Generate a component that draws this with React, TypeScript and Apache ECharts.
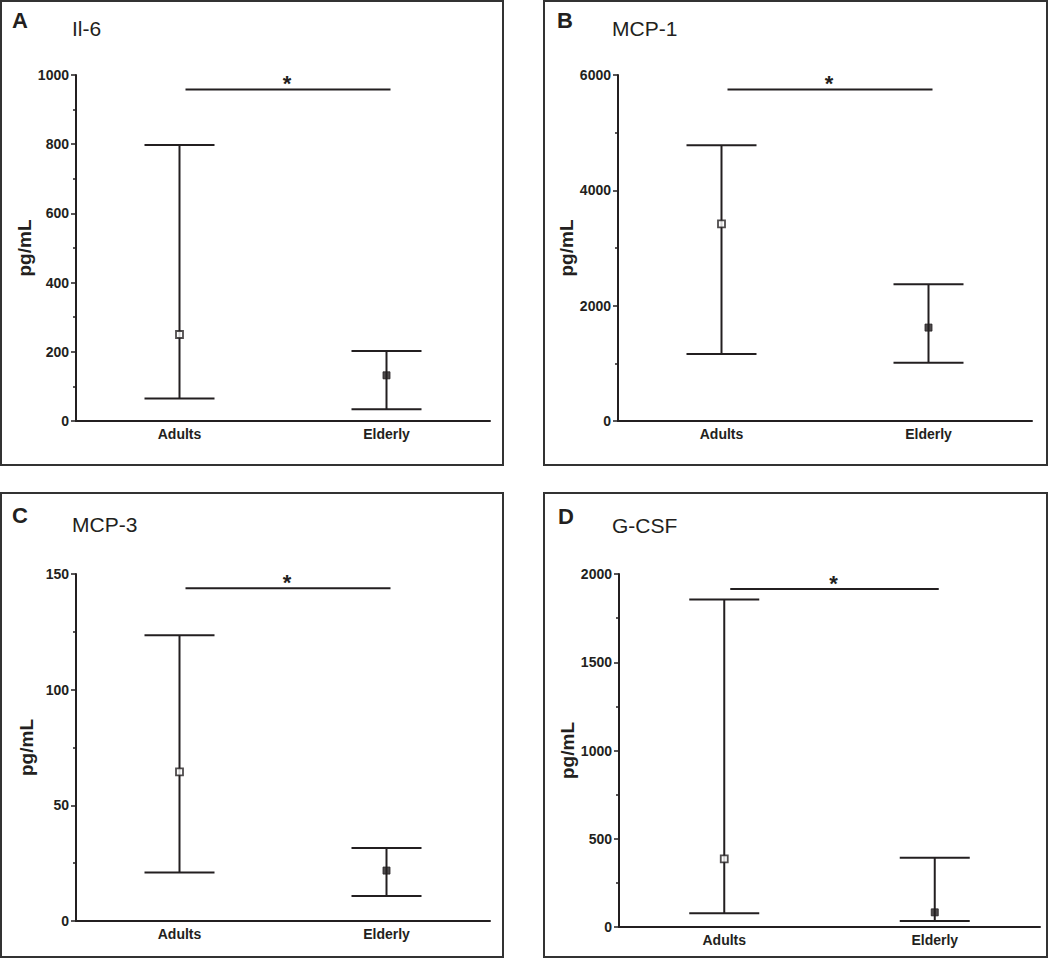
import React, { useEffect, useRef } from "react";
import * as echarts from "echarts";

const categories = ["Adults", "Elderly"];
const panelLetters = ["A", "B", "C", "D"];
const panelTitles = ["Il-6", "MCP-1", "MCP-3", "G-CSF"];
const yAxisName = "pg/mL";
const yMax = [1000, 6000, 150, 2000];
const yInterval = [200, 2000, 50, 500];
const adultsMean = [250, 3420, 64.5, 386];
const adultsLow = [65, 1160, 21, 78];
const adultsHigh = [798, 4780, 123.5, 1855];
const elderlyMean = [132, 1620, 21.8, 83];
const elderlyLow = [34, 1010, 10.8, 34];
const elderlyHigh = [202, 2370, 31.6, 393];
const sigLevel = [958, 5750, 143.8, 1915];
const sigLabel = ["*", "*", "*", "*"];

const FONT = '"Liberation Sans", Arial, Helvetica, sans-serif';
const INK = "#231f20";

// layout (pixels)
const grids = [
  { left: 76, top: 75, width: 414, height: 346 },
  { left: 618, top: 75, width: 414, height: 346 },
  { left: 76, top: 574, width: 414, height: 347 },
  { left: 619, top: 574, width: 421, height: 353 },
];
const frames = [
  { x: 1, y: 1, width: 502, height: 464 },
  { x: 544, y: 1, width: 503, height: 464 },
  { x: 1, y: 493, width: 502, height: 464 },
  { x: 544, y: 493, width: 503, height: 464 },
];
const letterPos = [
  { x: 12, y: 20 },
  { x: 557, y: 20 },
  { x: 12, y: 515.5 },
  { x: 558, y: 516 },
];
const titlePos = [
  { x: 72, y: 28.5 },
  { x: 612, y: 28.5 },
  { x: 72, y: 524.5 },
  { x: 612, y: 525 },
];

export default function App() {
  const ref = useRef<HTMLDivElement>(null);

  useEffect(() => {
    if (!ref.current) return;
    const chart = echarts.init(ref.current, undefined, { renderer: "svg" });

    const errorBarRender = (params: any, api: any) => {
      const x = api.value(0);
      const lo = api.coord([x, api.value(1)]);
      const hi = api.coord([x, api.value(2)]);
      const hw = 35;
      const style = { stroke: INK, lineWidth: 2 };
      return {
        type: "group",
        children: [
          { type: "line", shape: { x1: lo[0], y1: lo[1], x2: hi[0], y2: hi[1] }, style },
          { type: "line", shape: { x1: lo[0] - hw, y1: lo[1], x2: lo[0] + hw, y2: lo[1] }, style },
          { type: "line", shape: { x1: hi[0] - hw, y1: hi[1], x2: hi[0] + hw, y2: hi[1] }, style },
        ],
      };
    };

    const sigRender = (params: any, api: any) => {
      const p0 = api.coord([api.value(0), api.value(1)]);
      const p1 = api.coord([api.value(2), api.value(1)]);
      const x1 = p0[0] + 6;
      const x2 = p1[0] + 4;
      return {
        type: "group",
        children: [
          { type: "line", shape: { x1, y1: p0[1], x2, y2: p0[1] }, style: { stroke: INK, lineWidth: 2 } },
          {
            type: "text",
            x: (x1 + x2) / 2 - 1,
            y: p0[1] - 6,
            style: {
              text: sigLabel[Math.floor(params.seriesIndex / 4)] ?? "*",
              fontSize: 22,
              fontWeight: "bold",
              fontFamily: FONT,
              fill: INK,
              align: "center",
              verticalAlign: "middle",
            },
          },
        ],
      };
    };

    const xAxis: any[] = [];
    const yAxis: any[] = [];
    const series: any[] = [];
    const graphic: any[] = [];

    for (let i = 0; i < 4; i++) {
      xAxis.push({
        type: "category",
        gridIndex: i,
        data: categories,
        boundaryGap: true,
        axisLine: { lineStyle: { color: INK, width: 2 } },
        axisTick: { show: false },
        axisLabel: { color: INK, fontFamily: FONT, fontWeight: "bold", fontSize: 14, margin: 6 },
        splitLine: { show: false },
      });
      yAxis.push({
        type: "value",
        gridIndex: i,
        min: 0,
        max: yMax[i],
        interval: yInterval[i],
        name: yAxisName,
        nameLocation: "middle",
        nameGap: 40,
        nameTextStyle: { color: INK, fontFamily: FONT, fontWeight: "bold", fontSize: 19 },
        axisLine: { show: true, lineStyle: { color: INK, width: 2 } },
        axisTick: { show: true, length: 5, lineStyle: { color: INK, width: 1.5 } },
        minorTick: { show: true, splitNumber: 2, length: 3, lineStyle: { color: INK, width: 1.5 } },
        axisLabel: {
          color: INK,
          fontFamily: FONT,
          fontWeight: "bold",
          fontSize: 14,
          margin: 7,
          formatter: (v: number) => String(v),
        },
        splitLine: { show: false },
      });
      series.push({
        type: "custom",
        name: "error bars " + panelTitles[i],
        xAxisIndex: i,
        yAxisIndex: i,
        z: 2,
        renderItem: errorBarRender,
        data: [
          [categories[0], adultsLow[i], adultsHigh[i]],
          [categories[1], elderlyLow[i], elderlyHigh[i]],
        ],
      });
      series.push({
        type: "custom",
        name: "significance " + panelTitles[i],
        xAxisIndex: i,
        yAxisIndex: i,
        z: 2,
        renderItem: sigRender,
        data: [[0, sigLevel[i], 1]],
      });
      series.push({
        type: "scatter",
        name: categories[0] + " " + panelTitles[i],
        xAxisIndex: i,
        yAxisIndex: i,
        z: 4,
        symbol: "rect",
        symbolSize: 7,
        itemStyle: { color: "#ffffff", borderColor: INK, borderWidth: 1.8 },
        data: [[categories[0], adultsMean[i]]],
      });
      series.push({
        type: "scatter",
        name: categories[1] + " " + panelTitles[i],
        xAxisIndex: i,
        yAxisIndex: i,
        z: 4,
        symbol: "rect",
        symbolSize: 7,
        itemStyle: { color: INK, borderColor: INK, borderWidth: 1 },
        data: [[categories[1], elderlyMean[i]]],
      });

      graphic.push({
        type: "rect",
        shape: frames[i],
        style: { fill: "none", stroke: "#333333", lineWidth: 2 },
        silent: true,
      });
      graphic.push({
        type: "text",
        x: letterPos[i].x,
        y: letterPos[i].y,
        style: {
          text: panelLetters[i],
          fontSize: 22,
          fontWeight: "bold",
          fontFamily: FONT,
          fill: INK,
          verticalAlign: "middle",
        },
      });
      graphic.push({
        type: "text",
        x: titlePos[i].x,
        y: titlePos[i].y,
        style: {
          text: panelTitles[i],
          fontSize: 21,
          fontFamily: FONT,
          fill: INK,
          verticalAlign: "middle",
        },
      });
    }

    chart.setOption({
      animation: false,
      backgroundColor: "#ffffff",
      grid: grids.map((g) => ({ ...g, containLabel: false })),
      xAxis,
      yAxis,
      series,
      graphic,
    });

    return () => chart.dispose();
  }, []);

  return (
    <div
      ref={ref}
      style={{ position: "absolute", left: 0, top: 0, width: 1050, height: 959, background: "#fff" }}
    />
  );
}
